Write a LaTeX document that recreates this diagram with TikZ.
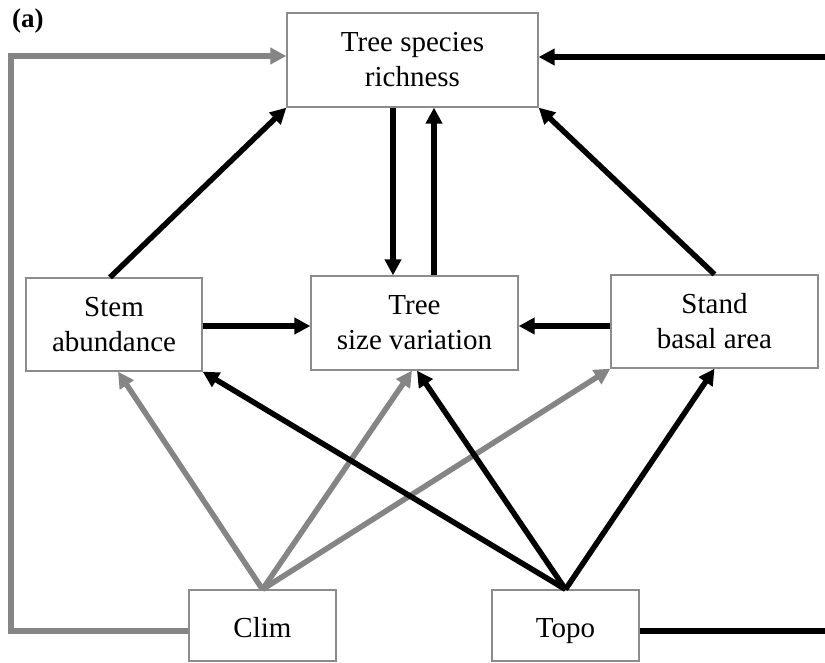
\documentclass[tikz,border=0pt]{standalone}
\usepackage{fontspec}
\setmainfont{Liberation Serif}
\usetikzlibrary{arrows.meta,calc}
\definecolor{boxgray}{HTML}{8C8C8C}
\definecolor{linegray}{HTML}{858585}
\begin{document}
\begin{tikzpicture}[x=1pt,y=-1pt,
  box/.style={draw=boxgray,line width=1.3pt,rectangle,align=center,inner sep=0pt,
    font=\fontsize{29}{35}\selectfont},
  lowbox/.style={draw=boxgray,line width=1.3pt,rectangle,inner sep=0pt,
    text height=25pt,text depth=2pt,font=\fontsize{29}{35}\selectfont},
  blk/.style={draw=black,line width=5.5pt,-{Triangle[length=16pt,width=16pt]}},
  gry/.style={draw=linegray,line width=5.5pt,-{Triangle[length=16pt,width=16pt]}}]
\clip (0,0) rectangle (825,663);
\fill[white] (0,0) rectangle (825,663);
\node[box,minimum width=251pt,minimum height=94pt] (tsr) at (412.5,60) {Tree species\\richness};
\node[box,minimum width=176pt,minimum height=93pt] (stem) at (114,324.5) {Stem\\abundance};
\node[box,minimum width=207pt,minimum height=94pt] (tsv) at (414.5,323) {Tree\\size variation};
\node[box,minimum width=207pt,minimum height=93pt] (sba) at (714.5,321.5) {Stand\\basal area};
\node[lowbox,minimum width=147pt,minimum height=71pt] (clim) at (262.5,625.5) {Clim};
\node[lowbox,minimum width=147pt,minimum height=71pt] (topo) at (565.5,625.5) {Topo};
\node[anchor=west,inner sep=0pt,font=\fontsize{27}{30}\selectfont\bfseries] (lab) at (12,21) {(a)};

\coordinate (gl1) at (11,631);
\coordinate (gl2) at (11,56);
\coordinate (br1) at (845,631);
\coordinate (br2) at (845,57);

% top-level arrows
\draw[blk] (stem.north -| 110,0) -- (tsr.south west);
\draw[blk] (sba.north) -- (tsr.south east);
\draw[blk] (tsr.south -| 393,0) -- (tsv.north -| 393,0);
\draw[blk] (tsv.north -| 434,0) -- (tsr.south -| 434,0);
\draw[blk] (stem.east |- 0,326) -- (tsv.west |- 0,326);
\draw[blk] (sba.west |- 0,326) -- (tsv.east |- 0,326);

% climate arrows
\draw[gry] (clim.north) -- (stem.south -| 118,0);
\draw[gry] (clim.north) -- (tsv.south -| 412,0);
\draw[gry] (clim.north) -- (sba.south west);
\draw[gry,line join=miter] (clim.west |- 0,631) -- (gl1) -- (gl2) -- (tsr.west |- 0,56);

% topography arrows
\draw[blk] (topo.north) -- (stem.south east);
\draw[blk] (topo.north) -- (tsv.south -| 417,0);
\draw[blk] (topo.north) -- (sba.south);
\draw[blk] (topo.east |- 0,631) -- (br1) -- (br2) -- (tsr.east |- 0,57);
\end{tikzpicture}
\end{document}
